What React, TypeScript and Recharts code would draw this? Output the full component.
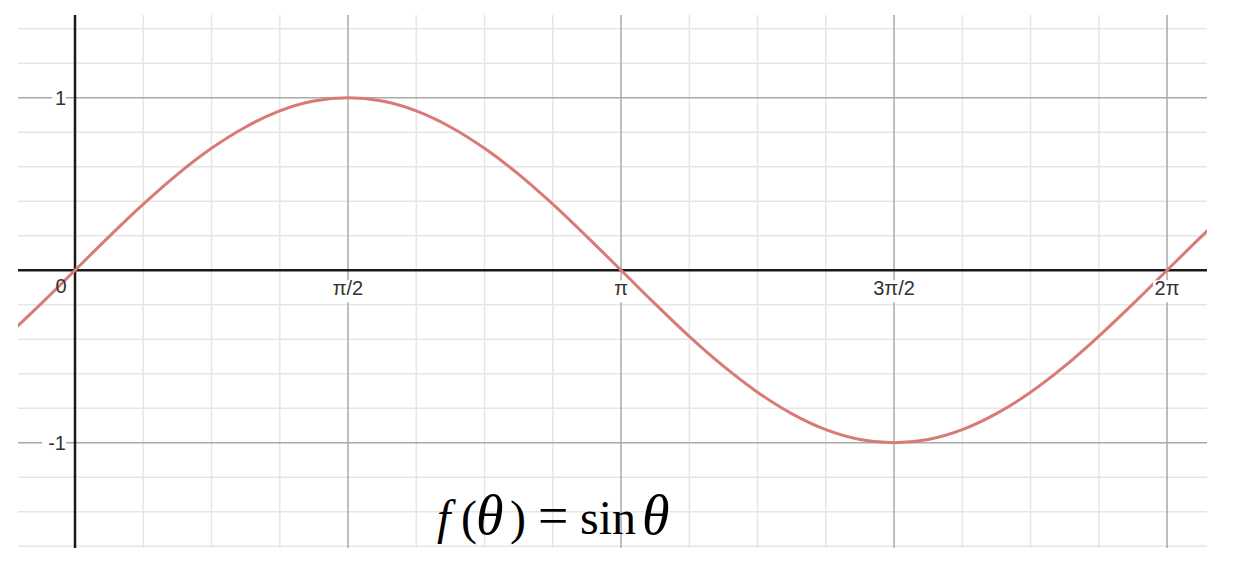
import { LineChart, Line, XAxis, YAxis, ReferenceLine, ReferenceDot } from 'recharts';

// theta in radians, sampled every pi/16
const theta = [
  -0.393, -0.196, 0, 0.196, 0.393, 0.589, 0.785, 0.982, 1.178, 1.374, 1.571, 1.767, 1.963, 2.16,
  2.356, 2.553, 2.749, 2.945, 3.142, 3.338, 3.534, 3.731, 3.927, 4.123, 4.32, 4.516, 4.712, 4.909,
  5.105, 5.301, 5.498, 5.694, 5.89, 6.087, 6.283, 6.48, 6.676,
];
const sinTheta = [
  -0.383, -0.195, 0, 0.195, 0.383, 0.556, 0.707, 0.831, 0.924, 0.981, 1, 0.981, 0.924, 0.831,
  0.707, 0.556, 0.383, 0.195, 0, -0.195, -0.383, -0.556, -0.707, -0.831, -0.924, -0.981, -1, -0.981,
  -0.924, -0.831, -0.707, -0.556, -0.383, -0.195, 0, 0.195, 0.383,
];

const xMajorTicks = [1.5708, 3.1416, 4.7124, 6.2832];
const xTickLabels = ['π/2', 'π', '3π/2', '2π'];
const xMinorTicks = [0.3927, 0.7854, 1.1781, 1.9635, 2.3562, 2.7489, 3.5343, 3.927, 4.3197, 5.1051, 5.4978, 5.8905];
const yMajorTicks = [1, -1];
const yTickLabels = ['1', '-1'];
const yMinorTicks = [1.4, 1.2, 0.8, 0.6, 0.4, 0.2, -0.2, -0.4, -0.6, -0.8, -1.2, -1.4, -1.6];

const data = theta.map((t, i) => ({ theta: t, value: sinTheta[i] }));

const FONT = '"Liberation Sans", Arial, sans-serif';
const SERIF = '"Liberation Serif", "Times New Roman", serif';
const MINOR = '#e6e6e6';
const MAJOR = '#a9a9a9';

function xTick(text: string) {
  return (p: any) => {
    const { x, y } = p.viewBox;
    const w = text.length * 11 + 6;
    return (
      <g>
        <rect x={x - w / 2} y={y + 10} width={w} height={22} fill="#fff" />
        <text x={x} y={y + 25} textAnchor="middle" fontFamily={FONT} fontSize={20} fill="#333">
          {text}
        </text>
      </g>
    );
  };
}

function yTick(text: string) {
  return (p: any) => {
    const { x, y } = p.viewBox;
    const w = text.length * 10 + 4;
    return (
      <g>
        <rect x={x - 9 - w} y={y - 11} width={w} height={22} fill="#fff" />
        <text x={x - 9} y={y + 7} textAnchor="end" fontFamily={FONT} fontSize={20} fill="#333">
          {text}
        </text>
      </g>
    );
  };
}

function originTick(p: any) {
  const { x, y } = p.viewBox;
  return (
    <text x={x - 14} y={y + 23} textAnchor="middle" fontFamily={FONT} fontSize={20} fill="#333">
      0
    </text>
  );
}

export default function App() {
  return (
    <div style={{ position: 'absolute', left: 0, top: 0, width: 1237, height: 563, background: '#fff' }}>
      <LineChart width={1237} height={563} data={data} margin={{ top: 15, right: 30, bottom: 15, left: 18 }}>
        <XAxis dataKey="theta" type="number" domain={[-0.328, 6.513]} allowDataOverflow hide />
        <YAxis type="number" domain={[-1.61, 1.48]} allowDataOverflow hide />

        {xMinorTicks.map((t) => (
          <ReferenceLine key={'xm' + t} x={t} stroke={MINOR} strokeWidth={1.5} />
        ))}
        {yMinorTicks.map((t) => (
          <ReferenceLine key={'ym' + t} y={t} stroke={MINOR} strokeWidth={1.5} />
        ))}
        {xMajorTicks.map((t) => (
          <ReferenceLine key={'xM' + t} x={t} stroke={MAJOR} strokeWidth={1.5} />
        ))}
        {yMajorTicks.map((t) => (
          <ReferenceLine key={'yM' + t} y={t} stroke={MAJOR} strokeWidth={1.5} />
        ))}

        {xMajorTicks.map((t, i) => (
          <ReferenceDot key={'xl' + t} x={t} y={0} r={0} stroke="none" fill="none" label={xTick(xTickLabels[i])} />
        ))}
        {yMajorTicks.map((t, i) => (
          <ReferenceDot key={'yl' + t} x={0} y={t} r={0} stroke="none" fill="none" label={yTick(yTickLabels[i])} />
        ))}
        <ReferenceDot x={0} y={0} r={0} stroke="none" fill="none" label={originTick} />

        <ReferenceLine x={0} stroke="#1a1a1a" strokeWidth={2.5} />
        <ReferenceLine y={0} stroke="#1a1a1a" strokeWidth={2.5} />

        <Line
          type="monotone"
          dataKey="value"
          stroke="#d97a76"
          strokeWidth={3}
          dot={false}
          isAnimationActive={false}
        />
      </LineChart>
      <svg width={1237} height={563} style={{ position: 'absolute', left: 0, top: 0, pointerEvents: 'none' }}>
        <text y={534} fontFamily={SERIF} fontSize={48} fill="#000">
          <tspan x={437} fontStyle="italic">f</tspan>
          <tspan x={461}>(</tspan>
          <tspan x={476} fontStyle="italic" fontSize={56}>θ</tspan>
          <tspan x={510}>)</tspan>
          <tspan x={538} fontSize={54}>=</tspan>
          <tspan x={580}>sin</tspan>
          <tspan x={642} fontStyle="italic" fontSize={56}>θ</tspan>
        </text>
      </svg>
    </div>
  );
}
